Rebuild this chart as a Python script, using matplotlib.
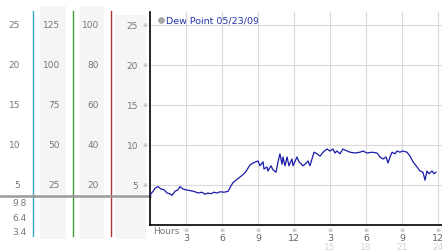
import matplotlib
matplotlib.use("Agg")
import matplotlib.pyplot as plt
from matplotlib import transforms

# ---- data ----
hours = [0.0, 0.25, 0.42, 0.67, 0.92, 1.17, 1.42, 1.67, 1.83, 2.08, 2.33, 2.5, 2.75,
         3.0, 3.33, 3.67, 4.0, 4.33, 4.58, 4.83, 5.08, 5.33, 5.58, 5.83, 6.17, 6.5,
         6.75, 6.92, 7.17, 7.5, 7.75, 8.0, 8.33, 8.58, 9.0, 9.17, 9.42, 9.5, 9.75,
         9.83, 10.08, 10.25, 10.5, 10.67, 10.83, 11.0, 11.08, 11.25, 11.42, 11.58,
         11.83, 11.92, 12.25, 12.42, 12.75, 12.92, 13.17, 13.33, 13.5, 13.67, 13.92,
         14.17, 14.42, 14.75, 15.0, 15.25, 15.42, 15.58, 15.83, 16.08, 16.42, 16.67,
         17.08, 17.5, 17.75, 18.08, 18.5, 18.92, 19.17, 19.42, 19.67, 19.83, 20.0,
         20.17, 20.42, 20.58, 20.83, 21.08, 21.42, 21.67, 21.92, 22.25, 22.5, 22.75,
         22.92, 23.08, 23.25, 23.5, 23.67, 23.83]
dew_point = [3.75, 4.2, 4.6, 4.8, 4.5, 4.4, 4.0, 3.9, 3.7, 4.2, 4.4, 4.8, 4.5,
             4.4, 4.3, 4.2, 4.0, 4.1, 3.85, 4.0, 3.9, 4.1, 4.0, 4.15, 4.1, 4.2,
             4.9, 5.3, 5.6, 6.0, 6.3, 6.7, 7.5, 7.75, 8.0, 7.4, 7.9, 7.0, 7.25,
             6.75, 7.4, 6.9, 6.6, 7.9, 8.9, 7.6, 8.5, 7.4, 8.5, 7.4,
             8.25, 7.4, 8.5, 7.9, 7.4, 7.6, 8.0, 7.4, 8.25, 9.1, 8.9,
             8.6, 9.1, 9.5, 9.25, 9.5, 9.0, 9.25, 8.9, 9.5, 9.25, 9.1,
             9.0, 9.1, 9.25, 9.0, 9.1, 9.0, 8.5, 8.25, 8.5, 7.75, 8.5,
             9.1, 8.9, 9.25, 9.1, 9.25, 9.1, 8.6, 7.9, 7.25, 6.75, 6.6,
             5.6, 6.75, 6.4, 6.75, 6.4, 6.6]

y_ticks = [5, 10, 15, 20, 25]
col1_labels = ["5", "10", "15", "20", "25"]
col2_labels = ["25", "50", "75", "100", "125"]
col3_labels = ["20", "40", "60", "80", "100"]
col4_labels = ["5", "10", "15", "20", "25"]
low_labels = ["9.8", "6.4", "3.4"]
x_ticks = [3, 6, 9, 12, 15, 18, 21, 24]
x_labels = ["3", "6", "9", "12", "3", "6", "9", "12"]
x_ticks2 = [15, 18, 21, 24]
x_labels2 = ["15", "18", "21", "24"]
ref_level = 3.6
legend_label = "Dew Point 05/23/09"

W, H = 442, 253
fig = plt.figure(figsize=(W / 100, H / 100), dpi=100)
fig.patch.set_facecolor("white")

# overlay in pixel coordinates for decorations
ov = fig.add_axes([0, 0, 1, 1], zorder=0)
ov.set_xlim(0, W)
ov.set_ylim(H, 0)
ov.axis("off")

# main axes
ax_l, ax_r, ax_b, ax_t = 150, 442, 226, 13
ax = fig.add_axes([ax_l / W, (H - ax_b) / H, (ax_r - ax_l) / W, (ax_b - ax_t) / H], zorder=2)
ax.patch.set_alpha(0)
ax.set_xlim(0, (ax_r - ax_l) / 12.0)
ax.set_ylim(0, (ax_b - ax_t) / 8.0)

tc = "#777777"
fs = 6.5

# grid
for v in y_ticks:
    ax.axhline(v, color="#d9d9d9", lw=0.8, zorder=0)
for v in x_ticks:
    ax.axvline(v, color="#d9d9d9", lw=0.8, zorder=0)

ax.plot(hours, dew_point, color="#1a1aa8", lw=0.9, zorder=3)

for s in ["top", "right"]:
    ax.spines[s].set_visible(False)
ax.spines["left"].set_color("black")
ax.spines["bottom"].set_color("black")
ax.spines["left"].set_linewidth(1.2)
ax.spines["bottom"].set_linewidth(1.2)

ax.set_yticks(y_ticks)
ax.set_yticklabels(col4_labels)
ax.tick_params(axis="y", length=0, pad=8.5, labelsize=fs, labelcolor=tc)
ax.set_xticks(x_ticks)
ax.set_xticklabels(x_labels)
ax.tick_params(axis="x", length=0, pad=5.5, labelsize=fs + 0.3, labelcolor="#666666")

# blended transform: x pixels (overlay), y main-axis data
bt = transforms.blended_transform_factory(ov.transData, ax.transData)
bx = transforms.blended_transform_factory(ax.transData, ov.transData)

# shaded bands
for x0, x1, y0 in [(40, 66, 7), (80, 104, 7), (115, 146, 16)]:
    ov.add_patch(plt.Rectangle((x0, y0), x1 - x0, 240 - y0, color="#f5f5f5", lw=0, zorder=0))

# coloured scale lines
for x, c in [(33, "#3aa6cf"), (73, "#3aa03a"), (111, "#b03434")]:
    ov.plot([x, x], [12, 237], color=c, lw=1.0, zorder=2)

# grey reference line
ov.plot([0, 150], [ref_level, ref_level], color="#9a9a9a", lw=1.8, transform=bt, zorder=3)

# scale labels
for v, a, b, c in zip(y_ticks, col1_labels, col2_labels, col3_labels):
    ov.text(20, v, a, transform=bt, ha="right", va="center", fontsize=fs, color=tc)
    ov.text(60, v, b, transform=bt, ha="right", va="center", fontsize=fs, color=tc)
    ov.text(99, v, c, transform=bt, ha="right", va="center", fontsize=fs, color=tc)
    ov.text(145, v, "\u203b", transform=bt, ha="center", va="center", fontsize=4.5, color="#999999")

for y, lab in zip([204, 219, 233], low_labels):
    ov.text(27, y, lab, ha="right", va="center", fontsize=fs, color=tc)

# x tick markers and second-row labels
for v in x_ticks:
    ov.text(v, 231, "\u203b", transform=bx, ha="center", va="center", fontsize=4.5, color="#999999")
for v, lab in zip(x_ticks2, x_labels2):
    ov.text(v, 248, lab, transform=bx, ha="center", va="center", fontsize=fs, color="#d4d4d4")
ov.text(153, 232, "Hours", ha="left", va="center", fontsize=fs, color=tc)

# legend
ov.scatter([161], [21], s=16, color="#aaaaaa", edgecolors="#888888", linewidths=0.5, zorder=4)
ov.text(166, 21, legend_label, ha="left", va="center", fontsize=6.8, color="#2233aa", zorder=4)

fig.savefig("out.png", dpi=100)
